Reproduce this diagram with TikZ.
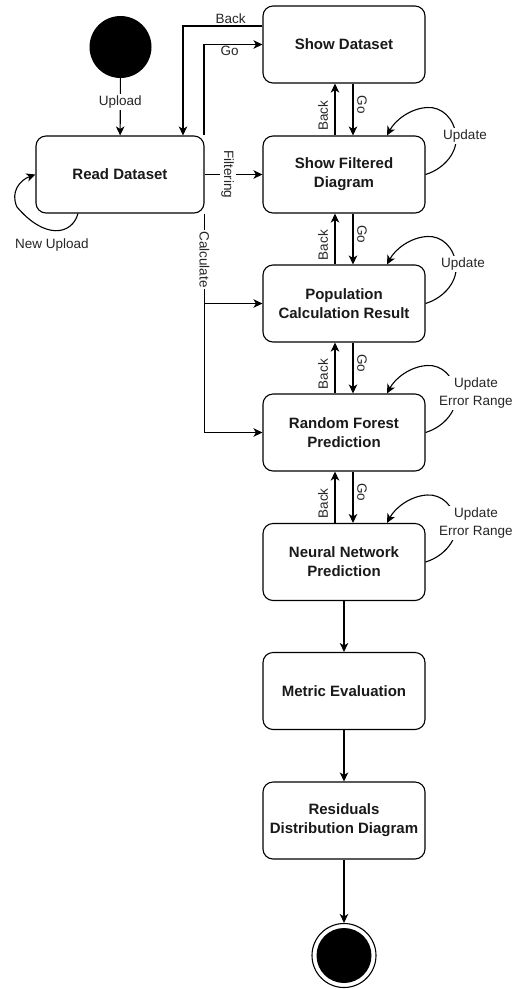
\documentclass[tikz,border=0pt]{standalone}
\usepackage{fontspec}
\setmainfont{Liberation Sans}
\usetikzlibrary{arrows.meta,calc}
\newcommand\updloop[1]{\draw[arr] (#1.east) .. controls ($(#1.center)+(101,-6)$) and ($(#1.center)+(114,-23)$) .. ($(#1.center)+(112,-39)$) .. controls ($(#1.center)+(110,-56)$) and ($(#1.center)+(98,-68)$) .. ($(#1.center)+(83,-67)$) .. controls ($(#1.center)+(66,-66)$) and ($(#1.center)+(51,-54)$) .. ([xshift=43pt]#1.north);}
\begin{document}
\begin{tikzpicture}[x=1pt,y=-1pt,
  box/.style={draw, rounded corners=10pt, minimum width=162pt, minimum height=77pt, align=center, font=\bfseries\fontsize{15}{19}\selectfont, line width=1.1pt, inner sep=2pt, text=black!90},
  arr/.style={-{Stealth[length=9pt,width=8.5pt,inset=2.5pt]}, line width=1.1pt},
  lbl/.style={font=\fontsize{13.5}{17.5}\selectfont, text=black!85, inner sep=1.5pt}]
\useasboundingbox (0,0) rectangle (517,989);
% nodes
\node[circle, fill=black, minimum size=62pt, inner sep=0] (start) at (120.5,47) {};
\node[box, minimum width=168pt] (read) at (120,174.5) {Read Dataset};
\node[box] (show) at (344,44.5) {Show Dataset};
\node[box] (filt) at (344,174.5) {Show Filtered\\Diagram};
\node[box] (pop) at (344,303.5) {Population\\Calculation Result};
\node[box] (rf) at (344,432.5) {Random Forest\\Prediction};
\node[box] (nn) at (344,562) {Neural Network\\Prediction};
\node[box] (met) at (344,691) {Metric Evaluation};
\node[box] (res) at (344,820.5) {Residuals\\Distribution Diagram};
\node[circle, draw, line width=1.1pt, minimum size=64pt, inner sep=0] (end) at (344,955.5) {};
\fill (end.center) circle (27.5);
% edges from start / read
\draw[arr] (start) -- node[lbl, fill=white, pos=0.42] (lupload) {Upload} (read);
\draw[arr] ([yshift=18.5pt]show.west) -| node[lbl, above, pos=0.2] (lback0) {Back} ([xshift=63pt]read.north);
\draw[arr] ([xshift=84pt]read.north) |- node[lbl, below, pos=0.72] (lgo0) {Go} (show.west);
\draw[arr] (read) -- node[lbl, fill=white, rotate=-90, pos=0.4] (lfilt) {Filtering} (filt);
\draw[arr] (read.south east) |- node[lbl, fill=white, rotate=-90, pos=0.105] (lcalc) {Calculate} (rf.west);
\draw[arr] (read.south east |- pop.west) -- (pop.west);
\draw[arr] ([xshift=-42pt]read.south) .. controls (72,235) and (45,240) .. (17,207) .. controls (10,192) and (20,180) .. (read.west);
\node[lbl] (lnew) at (52,245) {New Upload};
% back / go pairs
\foreach \u/\l in {show/filt, filt/pop, pop/rf, rf/nn} {
  \draw[arr] ([xshift=-9pt]\l.north) -- ([xshift=-9pt]\u.south);
  \draw[arr] ([xshift=9pt]\u.south) -- ([xshift=9pt]\l.north);
  \node[lbl, rotate=90] (back\u) at ($([xshift=-9pt]\l.north)!0.5!([xshift=-9pt]\u.south)+(-12,6)$) {Back};
  \node[lbl, rotate=-90] (go\u) at ($([xshift=9pt]\u.south)!0.5!([xshift=9pt]\l.north)+(9,-5)$) {Go};
}
% update loops
\updloop{filt}
\updloop{pop}
\updloop{rf}
\updloop{nn}
\node[lbl, fill=white] (upd1) at ($(filt.center)+(121,-38.5)$) {Update};
\node[lbl, fill=white] (upd2) at ($(pop.center)+(119,-39.5)$) {Update};
\node[lbl, fill=white, align=center] (upd3) at ($(rf.center)+(132,-39.5)$) {Update\\Error Range};
\node[lbl, fill=white, align=center] (upd4) at ($(nn.center)+(132,-39)$) {Update\\Error Range};
% lower chain
\draw[arr] (nn) -- (met);
\draw[arr] (met) -- (res);
\draw[arr] (res) -- (end);
\end{tikzpicture}
\end{document}
